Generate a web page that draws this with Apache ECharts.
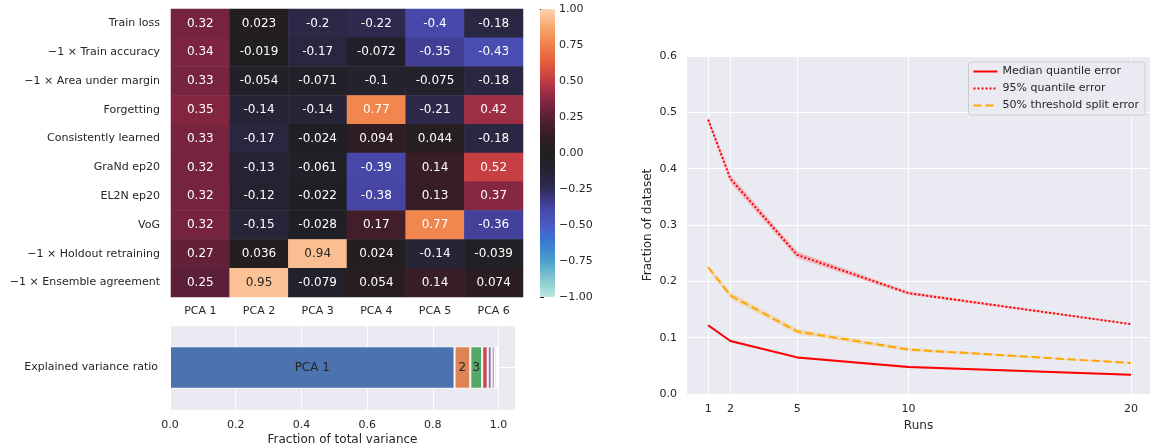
<!DOCTYPE html>
<html><head><meta charset="utf-8">
<script src="https://cdn.jsdelivr.net/npm/echarts@6/dist/echarts.min.js"></script>
<style>html,body{margin:0;padding:0;background:#fff}#c{width:1150px;height:448px}</style>
</head><body><div id="c"></div>
<script>
// ---------- data ----------
const metrics = ['Train loss', '\u22121 \u00d7 Train accuracy', '\u22121 \u00d7 Area under margin', 'Forgetting',
  'Consistently learned', 'GraNd ep20', 'EL2N ep20', 'VoG', '\u22121 \u00d7 Holdout retraining', '\u22121 \u00d7 Ensemble agreement'];
const components = ['PCA 1', 'PCA 2', 'PCA 3', 'PCA 4', 'PCA 5', 'PCA 6'];
const loadings = [
  [0.32, 0.023, -0.2, -0.22, -0.4, -0.18],
  [0.34, -0.019, -0.17, -0.072, -0.35, -0.43],
  [0.33, -0.054, -0.071, -0.1, -0.075, -0.18],
  [0.35, -0.14, -0.14, 0.77, -0.21, 0.42],
  [0.33, -0.17, -0.024, 0.094, 0.044, -0.18],
  [0.32, -0.13, -0.061, -0.39, 0.14, 0.52],
  [0.32, -0.12, -0.022, -0.38, 0.13, 0.37],
  [0.32, -0.15, -0.028, 0.17, 0.77, -0.36],
  [0.27, 0.036, 0.94, 0.024, -0.14, -0.039],
  [0.25, 0.95, -0.079, 0.054, 0.14, 0.074]
];
const varianceCategory = ['Explained variance ratio'];
const varianceRatio = [0.866, 0.048, 0.036, 0.017, 0.012, 0.009, 0.006, 0.003, 0.002, 0.001];
const varianceLabels = ['PCA 1', '2', '3', '', '', '', '', '', '', ''];
const varianceTicks = [0, 0.2, 0.4, 0.6, 0.8, 1.0];

const runs = [1, 2, 5, 10, 20];
const medianErr = [0.122, 0.094, 0.065, 0.048, 0.034];
const medianLo  = [0.120, 0.092, 0.063, 0.046, 0.033];
const medianHi  = [0.124, 0.096, 0.067, 0.050, 0.035];
const q95Err = [0.487, 0.382, 0.247, 0.179, 0.124];
const q95Lo  = [0.482, 0.375, 0.241, 0.176, 0.123];
const q95Hi  = [0.492, 0.389, 0.253, 0.182, 0.125];
const thrErr = [0.225, 0.175, 0.111, 0.079, 0.055];
const thrLo  = [0.221, 0.169, 0.106, 0.076, 0.054];
const thrHi  = [0.229, 0.181, 0.116, 0.082, 0.056];

// ---------- styling ----------
const FONT = 'DejaVu Sans';
const TXT = '#262626';
const BG = '#eaeaf2';
const icefire = ['#bde7db', '#85c8d2', '#4aa0cd', '#3b7bd5', '#4a5ac4', '#4644a3', '#2f2c56', '#252333',
  '#1f1e1f', '#341d25', '#5b1f37', '#8a2743', '#c13a44', '#e55b3d', '#f08149', '#f9a66e', '#fdd4b1'];
const deep = ['#4c72b0', '#dd8452', '#55a868', '#c44e52', '#8172b3', '#937860', '#da8bc3', '#8c8c8c', '#ccb974', '#64b5cd'];

const heatData = [];
loadings.forEach((row, r) => row.forEach((v, c) => {
  heatData.push({ value: [c, r, v], label: { color: v > 0.85 ? TXT : '#ffffff' } });
}));

const pairs = (ys) => runs.map((x, i) => [x, ys[i]]);
const fmtMinus = (v) => (v < 0 ? '\u2212' : '') + Math.abs(v).toFixed(2);

const barSeries = varianceRatio.map((v, i) => ({
  type: 'bar', name: 'EV ' + (i + 1), stack: 'ev', xAxisIndex: 1, yAxisIndex: 1,
  barWidth: '50%', data: [v],
  itemStyle: { color: deep[i], borderColor: '#ffffff', borderWidth: 1 },
  label: { show: varianceLabels[i] !== '', position: 'inside', formatter: varianceLabels[i],
    color: TXT, fontSize: 12, fontFamily: FONT },
  emphasis: { disabled: true }, silent: true
}));

// confidence band drawn as one polygon through the library's coordinate system
const bandSeries = (name, lo, hi, color) => ({
  type: 'custom', name: name, xAxisIndex: 3, yAxisIndex: 4, silent: true, z: 1,
  data: runs.map((x, i) => [x, lo[i], hi[i]]),
  encode: { x: 0, y: [1, 2] },
  renderItem: (params, api) => {
    if (params.dataIndex !== 0) return null;
    const top = runs.map((x, i) => api.coord([x, hi[i]]));
    const bot = runs.map((x, i) => api.coord([x, lo[i]])).reverse();
    return { type: 'polygon', shape: { points: top.concat(bot) }, style: { fill: color } };
  }
});

const option = {
  animation: false,
  textStyle: { fontFamily: FONT, color: TXT },
  grid: [
    { left: 171, top: 9, width: 352, height: 288 },
    { left: 170, top: 325, width: 345, height: 85, show: true, backgroundColor: BG, borderWidth: 0 },
    { left: 540, top: 9, width: 15, height: 288 },
    { left: 687, right: 0, top: 56, bottom: 54, show: true, backgroundColor: BG, borderWidth: 0 }
  ],
  xAxis: [
    { gridIndex: 0, type: 'category', data: components, axisLine: { show: false }, axisTick: { show: false },
      splitLine: { show: false }, axisLabel: { fontSize: 11, color: TXT, margin: 9, fontFamily: FONT } },
    { gridIndex: 1, type: 'value', min: 0, max: 1.05, interval: 0.2,
      axisLine: { show: false }, axisTick: { show: false },
      splitLine: { show: true, lineStyle: { color: '#ffffff', width: 1 } },
      axisLabel: { fontSize: 11, color: TXT, margin: 10, fontFamily: FONT,
        formatter: (v) => varianceTicks.some(t => Math.abs(t - v) < 1e-9) ? v.toFixed(1) : '' },
      name: 'Fraction of total variance', nameLocation: 'middle', nameGap: 24,
      nameTextStyle: { fontSize: 12, color: TXT, fontFamily: FONT } },
    { gridIndex: 2, type: 'value', min: 0, max: 1, show: false },
    { gridIndex: 3, type: 'value', min: 0.05, max: 20.85,
      axisLine: { show: false },
      axisTick: { show: false, customValues: runs },
      axisLabel: { fontSize: 11, color: TXT, margin: 10, fontFamily: FONT, customValues: runs },
      splitLine: { show: true, lineStyle: { color: '#ffffff', width: 1 } },
      name: 'Runs', nameLocation: 'middle', nameGap: 23,
      nameTextStyle: { fontSize: 12, color: TXT, fontFamily: FONT } }
  ],
  yAxis: [
    { gridIndex: 0, type: 'category', data: metrics, inverse: true, axisLine: { show: false },
      axisTick: { show: false }, splitLine: { show: false },
      axisLabel: { fontSize: 11, color: TXT, margin: 11, fontFamily: FONT } },
    { gridIndex: 1, type: 'category', data: varianceCategory, axisLine: { show: false },
      axisTick: { show: false }, splitLine: { show: false },
      axisLabel: { fontSize: 11, color: TXT, margin: 12, fontFamily: FONT } },
    { gridIndex: 1, type: 'value', min: 0, max: 2, interval: 1, position: 'right',
      axisLine: { show: false }, axisTick: { show: false }, axisLabel: { show: false },
      splitLine: { show: true, lineStyle: { color: '#ffffff', width: 1 } } },
    { gridIndex: 2, type: 'value', min: -1, max: 1, interval: 0.25, position: 'right',
      axisLine: { show: false },
      axisTick: { show: true, length: 4, lineStyle: { color: TXT, width: 1 } },
      splitLine: { show: false },
      axisLabel: { fontSize: 11, color: TXT, margin: 4, fontFamily: FONT, formatter: fmtMinus } },
    { gridIndex: 3, type: 'value', min: 0, max: 0.6, interval: 0.1,
      axisLine: { show: false }, axisTick: { show: false },
      splitLine: { show: true, lineStyle: { color: '#ffffff', width: 1 } },
      axisLabel: { fontSize: 11, color: TXT, margin: 10, fontFamily: FONT, formatter: (v) => v.toFixed(1) },
      name: 'Fraction of dataset', nameLocation: 'middle', nameGap: 33, nameRotate: 90,
      nameTextStyle: { fontSize: 12, color: TXT, fontFamily: FONT } }
  ],
  visualMap: {
    type: 'continuous', seriesIndex: 0, dimension: 2, min: -1, max: 1,
    calculable: false, orient: 'vertical', left: 540, top: 9, padding: 0,
    itemWidth: 15, itemHeight: 288, text: null, showLabel: false, hoverLink: false,
    inRange: { color: icefire }
  },
  legend: {
    orient: 'vertical', right: 5, top: 62,
    data: ['Median quantile error', '95% quantile error', '50% threshold split error'],
    itemWidth: 24, itemHeight: 10, itemGap: 6,
    padding: [4, 6, 4, 4],
    itemStyle: { opacity: 0 },
    backgroundColor: 'rgba(234,234,242,0.8)', borderColor: '#cccccc', borderWidth: 1, borderRadius: 3,
    textStyle: { fontSize: 11, color: TXT, fontFamily: FONT },
    selectedMode: false
  },
  series: [
    { type: 'heatmap', xAxisIndex: 0, yAxisIndex: 0, data: heatData,
      label: { show: true, fontSize: 12, fontFamily: FONT, formatter: (p) => String(p.value[2]) },
      itemStyle: { borderWidth: 0 }, emphasis: { disabled: true }, silent: true },
    ...barSeries,
    bandSeries('median band', medianLo, medianHi, 'rgba(255,0,0,0.2)'),
    bandSeries('q95 band', q95Lo, q95Hi, 'rgba(255,0,0,0.2)'),
    bandSeries('threshold band', thrLo, thrHi, 'rgba(255,165,0,0.22)'),
    { type: 'line', name: 'Median quantile error', xAxisIndex: 3, yAxisIndex: 4, data: pairs(medianErr),
      symbol: 'none', lineStyle: { color: '#ff0000', width: 2 }, itemStyle: { color: '#ff0000' }, z: 3 },
    { type: 'line', name: '95% quantile error', xAxisIndex: 3, yAxisIndex: 4, data: pairs(q95Err),
      symbol: 'none', lineStyle: { color: '#ff0000', width: 2, type: [2, 2] }, itemStyle: { color: '#ff0000' }, z: 3 },
    { type: 'line', name: '50% threshold split error', xAxisIndex: 3, yAxisIndex: 4, data: pairs(thrErr),
      symbol: 'none', lineStyle: { color: '#ffa500', width: 2, type: [8, 4] }, itemStyle: { color: '#ffa500' }, z: 3 }
  ]
};

const chart = echarts.init(document.getElementById('c'), null, { renderer: 'canvas' });
chart.setOption(option);
</script>
</body></html>
